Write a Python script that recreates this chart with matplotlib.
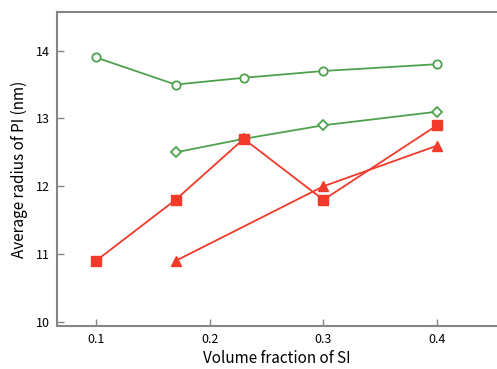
import matplotlib
matplotlib.use("Agg")
import matplotlib.pyplot as plt

plt.rcParams["font.family"] = ["Noto Sans CJK JP", "DejaVu Sans"]

# data
x_circle = [0.1, 0.17, 0.23, 0.3, 0.4]
y_circle = [13.9, 13.5, 13.6, 13.7, 13.8]
x_diamond = [0.17, 0.23, 0.3, 0.4]
y_diamond = [12.5, 12.7, 12.9, 13.1]
x_square = [0.1, 0.17, 0.23, 0.3, 0.4]
y_square = [10.9, 11.8, 12.7, 11.8, 12.9]
x_tri = [0.17, 0.3, 0.4]
y_tri = [10.9, 12.0, 12.6]

green = "#4ea24e"
red = "#f2392a"
gray = "#858585"

fig = plt.figure(figsize=(4.97, 3.69), dpi=100)
ax = fig.add_axes([0.1147, 0.1165, 0.8853, 0.851])

ax.plot(x_circle, y_circle, "-o", color=green, lw=1.3, ms=6,
        mfc="white", mec=green, mew=1.3)
ax.plot(x_diamond, y_diamond, "-D", color=green, lw=1.3, ms=5.5,
        mfc="white", mec=green, mew=1.3)
ax.plot(x_square, y_square, "-s", color=red, lw=1.3, ms=6.5, mfc=red, mec=red)
ax.plot(x_tri, y_tri, "-^", color=red, lw=1.3, ms=6.5, mfc=red, mec=red)

ax.set_xlim(0.0658, 0.4526)
ax.set_ylim(9.94, 14.57)
ax.set_xticks([0.1, 0.2, 0.3, 0.4])
ax.set_xticklabels(["0.1", "0.2", "0.3", "0.4"])
ax.set_yticks([10, 11, 12, 13, 14])

for side in ["left", "bottom", "top"]:
    ax.spines[side].set_color(gray)
    ax.spines[side].set_linewidth(1.5)
ax.spines["right"].set_visible(False)

ax.tick_params(direction="in", length=5, width=1, color=gray,
               labelsize=9, pad=5)

ax.set_xlabel("Volume fraction of SI", fontsize=11, labelpad=3)
ax.set_ylabel("Average radius of PI (nm)", fontsize=11, labelpad=6)

fig.savefig("out.png", dpi=100)
